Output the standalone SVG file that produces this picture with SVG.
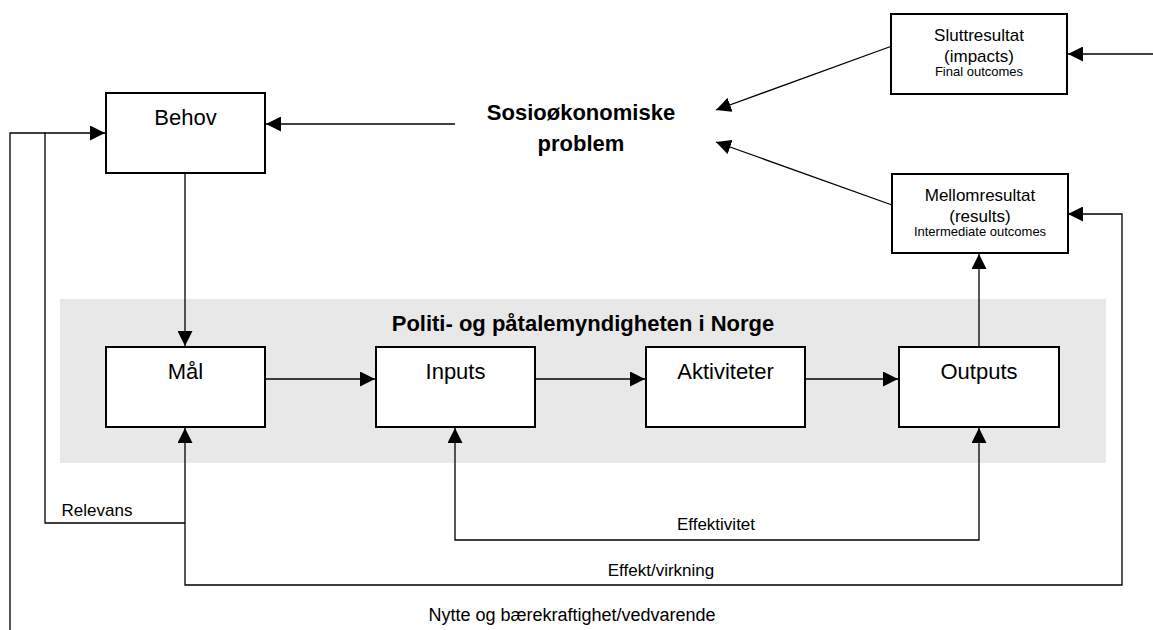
<svg xmlns="http://www.w3.org/2000/svg" width="1153" height="630" viewBox="0 0 1153 630">
<style>
.box{fill:#fff;stroke:#000;stroke-width:2}
.c{fill:none;stroke:#000;stroke-width:1.3}
.t{font-family:"Liberation Sans",Arial,sans-serif;fill:#000;text-anchor:middle}
.n{font-size:22px}
.b{font-size:22px;font-weight:bold}
.m{font-size:17px}
.s{font-size:13px}
.l{font-size:17px}
.w{font-size:18px}
</style>
<defs>
<marker id="ah" markerUnits="userSpaceOnUse" markerWidth="16" markerHeight="15" refX="15" refY="7.5" orient="auto-start-reverse" viewBox="0 0 16 15">
<path d="M0,0 L15,7.5 L0,15 z" fill="#000"/>
</marker>
</defs>
<rect x="0" y="0" width="1153" height="630" fill="#fff"/>
<g id="band">
<rect x="60" y="299" width="1046" height="164" fill="#e8e8e8"/>
<text class="t b" x="583" y="331">Politi- og påtalemyndigheten i Norge</text>
</g>
<g id="connectors">
<path class="c" d="M455,124 L266,124" marker-end="url(#ah)"/>
<path class="c" d="M185,173 L185,346" marker-end="url(#ah)"/>
<path class="c" d="M265,379 L375,379" marker-end="url(#ah)"/>
<path class="c" d="M535,379 L645,379" marker-end="url(#ah)"/>
<path class="c" d="M805,379 L898,379" marker-end="url(#ah)"/>
<path class="c" d="M979,347 L979,254" marker-end="url(#ah)"/>
<path class="c" d="M892,205 L716,142" marker-end="url(#ah)"/>
<path class="c" d="M892,46 L716,110" marker-end="url(#ah)"/>
<path class="c" d="M1153,54 L1068,54" marker-end="url(#ah)"/>
<path class="c" d="M979,428 L979,540 L455,540 L455,428" marker-start="url(#ah)" marker-end="url(#ah)"/>
<path class="c" d="M1068,214 L1122,214 L1122,585 L185,585 L185,428" marker-start="url(#ah)" marker-end="url(#ah)"/>
<path class="c" d="M185,523 L45,523 L45,133 L105,133" marker-end="url(#ah)"/>
<path class="c" d="M10,630 L10,133 L45,133"/>
<text class="t l" x="97" y="516">Relevans</text>
<text class="t l" x="716" y="530">Effektivitet</text>
<text class="t l" x="661" y="576">Effekt/virkning</text>
<text class="t w" x="572" y="621">Nytte og bærekraftighet/vedvarende</text>
</g>
<g id="behov">
<rect class="box" x="106" y="93" width="159" height="80"/>
<text class="t n" x="185.5" y="125">Behov</text>
</g>
<g id="sosio">
<text class="t b" x="581" y="120">Sosioøkonomiske</text>
<text class="t b" x="581" y="151">problem</text>
</g>
<g id="sluttresultat">
<rect class="box" x="891" y="14" width="176" height="80"/>
<text class="t m" x="979" y="41">Sluttresultat</text>
<text class="t m" x="979" y="62">(impacts)</text>
<text class="t s" x="979" y="76">Final outcomes</text>
</g>
<g id="mellomresultat">
<rect class="box" x="892" y="174" width="176" height="79"/>
<text class="t m" x="980" y="201">Mellomresultat</text>
<text class="t m" x="980" y="222">(results)</text>
<text class="t s" x="980" y="236">Intermediate outcomes</text>
</g>
<g id="mal">
<rect class="box" x="106" y="347" width="159" height="80"/>
<text class="t n" x="185.5" y="379">Mål</text>
</g>
<g id="inputs">
<rect class="box" x="376" y="347" width="159" height="80"/>
<text class="t n" x="455.5" y="379">Inputs</text>
</g>
<g id="aktiviteter">
<rect class="box" x="646" y="347" width="159" height="80"/>
<text class="t n" x="725.5" y="379">Aktiviteter</text>
</g>
<g id="outputs">
<rect class="box" x="899" y="347" width="160" height="80"/>
<text class="t n" x="979" y="379">Outputs</text>
</g>
</svg>
